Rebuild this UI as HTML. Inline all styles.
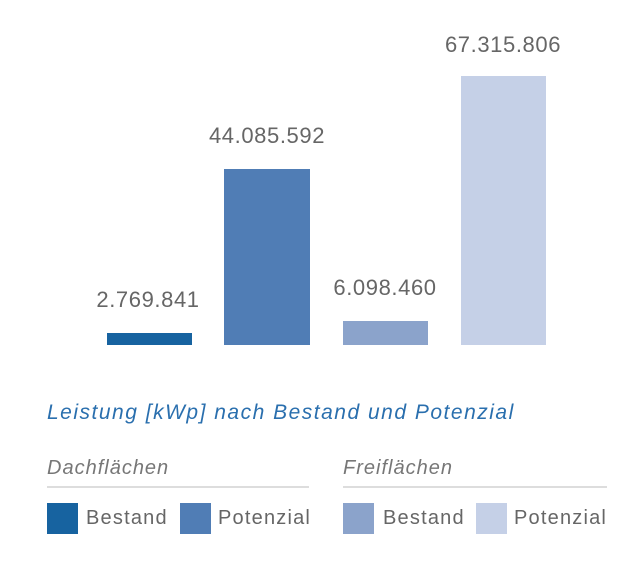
<!DOCTYPE html>
<html><head><style>
body{margin:0;width:636px;height:565px;background:#fff;position:relative;overflow:hidden;font-family:"Liberation Sans",sans-serif}
div{position:absolute}
.bar{bottom:220px}
.v{font-size:22px;letter-spacing:0.6px;color:#666;width:180px;text-align:center;line-height:1}
.it{font-style:italic}
.sq{width:31px;height:31px;top:503px}
.lt{font-size:20px;letter-spacing:1.2px;color:#666;top:508px;line-height:1}
.ln{height:2px;background:#ddd;top:486px}
</style></head><body>
<div class="bar" style="left:107px;width:85px;height:12px;background:#1763a0"></div>
<div class="bar" style="left:224px;width:86px;height:176px;background:#507db5"></div>
<div class="bar" style="left:343px;width:85px;height:24px;background:#8ba3cb"></div>
<div class="bar" style="left:461px;width:85px;height:269px;background:#c5d0e7"></div>
<div class="v" style="left:58px;top:289px">2.769.841</div>
<div class="v" style="left:177px;top:125px">44.085.592</div>
<div class="v" style="left:295px;top:277px">6.098.460</div>
<div class="v" style="left:413px;top:34px">67.315.806</div>
<div class="it" style="left:47px;top:402px;font-size:21px;letter-spacing:1.5px;color:#2a6fae;line-height:1">Leistung [kWp] nach Bestand und Potenzial</div>
<div class="it" style="left:47px;top:458px;font-size:20px;letter-spacing:1px;color:#777;line-height:1">Dachflächen</div>
<div class="it" style="left:343px;top:458px;font-size:20px;letter-spacing:1px;color:#777;line-height:1">Freiflächen</div>
<div class="ln" style="left:47px;width:262px"></div>
<div class="ln" style="left:343px;width:264px"></div>
<div class="sq" style="left:47px;background:#1763a0"></div>
<div class="lt" style="left:86px">Bestand</div>
<div class="sq" style="left:180px;background:#507db5"></div>
<div class="lt" style="left:218px">Potenzial</div>
<div class="sq" style="left:343px;background:#8ba3cb"></div>
<div class="lt" style="left:383px">Bestand</div>
<div class="sq" style="left:476px;background:#c5d0e7"></div>
<div class="lt" style="left:514px">Potenzial</div>
</body></html>
